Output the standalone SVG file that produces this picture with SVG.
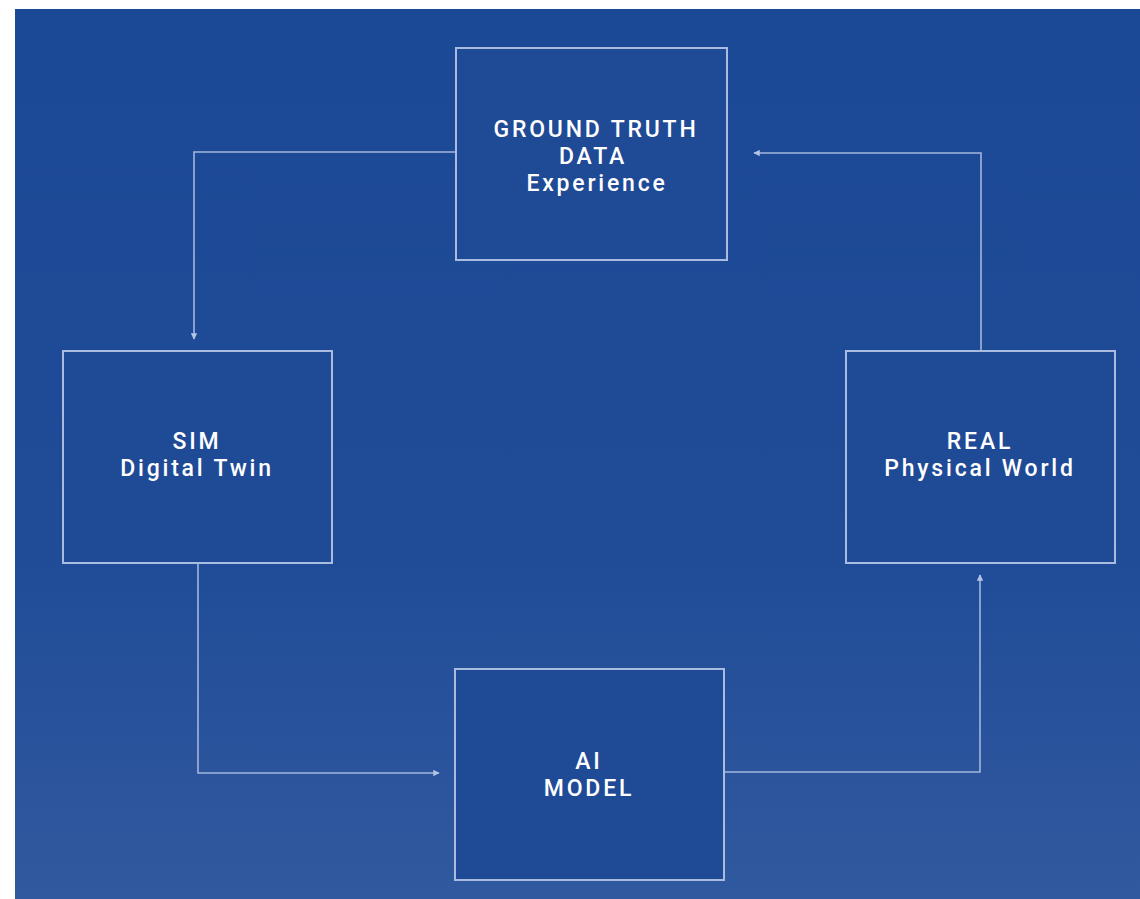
<svg xmlns="http://www.w3.org/2000/svg" width="1140" height="899" viewBox="0 0 1140 899">
  <defs>
    <linearGradient id="bg" x1="0" y1="0" x2="0" y2="1">
      <stop offset="0" stop-color="#1c4995"/>
      <stop offset="0.6" stop-color="#1f4b97"/>
      <stop offset="1" stop-color="#31599f"/>
    </linearGradient>
    <marker id="arrow" viewBox="0 0 10 10" refX="9" refY="5" markerWidth="4" markerHeight="4" orient="auto" markerUnits="strokeWidth">
      <path d="M0,0 L10,5 L0,10 z" fill="#b4c4e4"/>
    </marker>
    <style>
      .box { fill: #1f4a96; stroke: #a9bce0; stroke-width: 2; }
      .edge { fill: none; stroke: #a3b6dc; stroke-width: 1.6; marker-end: url(#arrow); }
      .label { font-family: Roboto, "Liberation Sans", sans-serif; font-size: 23px; font-weight: 500; fill: #ffffff; text-anchor: middle; letter-spacing: 2.8px; }
    </style>
  </defs>

  <rect x="0" y="0" width="1140" height="899" fill="#ffffff"/>
  <rect x="15" y="9" width="1125" height="890" fill="url(#bg)"/>

  <g id="connectors">
    <path class="edge" d="M456,152 H194 V339"/>
    <path class="edge" d="M198,563 V773 H439"/>
    <path class="edge" d="M724,772 H980 V575"/>
    <path class="edge" d="M981,351 V153 H754"/>
  </g>

  <g id="ground-truth">
    <rect class="box" x="456" y="48" width="271" height="212"/>
    <text class="label" x="596" y="137">GROUND TRUTH</text>
    <text class="label" x="593" y="164">DATA</text>
    <text class="label" x="597" y="191">Experience</text>
  </g>

  <g id="sim">
    <rect class="box" x="63" y="351" width="269" height="212"/>
    <text class="label" x="197" y="449">SIM</text>
    <text class="label" x="197" y="476">Digital Twin</text>
  </g>

  <g id="real">
    <rect class="box" x="846" y="351" width="269" height="212"/>
    <text class="label" x="980" y="449">REAL</text>
    <text class="label" x="980" y="476">Physical World</text>
  </g>

  <g id="ai-model">
    <rect class="box" x="455" y="669" width="269" height="211"/>
    <text class="label" x="589" y="769">AI</text>
    <text class="label" x="589" y="796">MODEL</text>
  </g>
</svg>
